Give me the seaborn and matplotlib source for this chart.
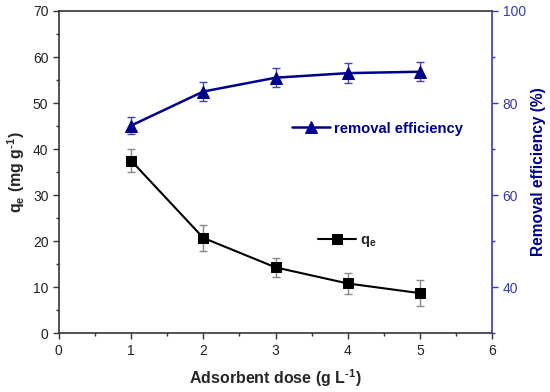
import numpy as np
import pandas as pd
import matplotlib
matplotlib.use('Agg')
import matplotlib.pyplot as plt
import seaborn as sns
from matplotlib.ticker import MultipleLocator

# data
dose = [1, 2, 3, 4, 5]
qe = [37.5, 20.7, 14.3, 10.8, 8.7]
qe_err = [2.5, 2.8, 2.1, 2.2, 2.8]
removal = [75.1, 82.5, 85.5, 86.5, 86.8]
removal_err = [1.8, 2.0, 2.1, 2.2, 2.1]

sns.set_style('ticks')
plt.rcParams['font.family'] = ['Liberation Sans', 'DejaVu Sans']
plt.rcParams['mathtext.fontset'] = 'custom'
plt.rcParams['mathtext.rm'] = 'Liberation Sans'
plt.rcParams['mathtext.bf'] = 'Liberation Sans:bold'
plt.rcParams['mathtext.default'] = 'bf'
plt.rcParams['axes.unicode_minus'] = False

navy = '#00008B'
axis_blue = '#3A3AA8'

df = pd.DataFrame({'dose': dose, 'qe': qe, 'removal': removal})

fig = plt.figure(figsize=(5.5, 3.92), dpi=100)
ax = fig.add_axes([0.107, 0.150, 0.788, 0.822])
ax2 = ax.twinx()

# q_e series
ax.errorbar(dose, qe, yerr=qe_err, fmt='none', ecolor='#888888',
            elinewidth=1, capsize=3, capthick=1, zorder=2)
sns.lineplot(data=df, x='dose', y='qe', ax=ax, color='black', marker='s',
             markersize=6.5, markeredgecolor='black', linewidth=1.5,
             label='q$_e$', legend=False, zorder=3)

# removal efficiency series
ax2.errorbar(dose, removal, yerr=removal_err, fmt='none', ecolor='#4444AA',
             elinewidth=1, capsize=3, capthick=1, zorder=2)
sns.lineplot(data=df, x='dose', y='removal', ax=ax2, color=navy, marker='^',
             markersize=8, markeredgecolor=navy, linewidth=1.8,
             label='removal efficiency', legend=False, zorder=3)

ax.set_xlim(0, 6)
ax.set_ylim(0, 70)
ax2.set_ylim(30, 100)

ax.xaxis.set_major_locator(MultipleLocator(1))
ax.xaxis.set_minor_locator(MultipleLocator(0.5))
ax.yaxis.set_major_locator(MultipleLocator(10))
ax.yaxis.set_minor_locator(MultipleLocator(5))
ax2.yaxis.set_minor_locator(MultipleLocator(10))
ax2.set_yticks([40, 60, 80, 100])

ax.tick_params(axis='both', which='major', direction='out', length=4, width=1,
               labelsize=10, colors='#333333', labelcolor='#222222')
ax.tick_params(axis='both', which='minor', direction='out', length=2.5, width=1,
               colors='#333333')
ax2.tick_params(axis='y', which='major', direction='out', length=4, width=1,
                labelsize=10, colors=axis_blue)
ax2.tick_params(axis='y', which='minor', direction='out', length=2.5, width=1,
                colors=axis_blue)

for side in ['left', 'bottom', 'top']:
    ax.spines[side].set_color('#333333')
    ax.spines[side].set_linewidth(1.2)
ax.spines['right'].set_visible(False)
for side in ['left', 'bottom', 'top']:
    ax2.spines[side].set_visible(False)
ax2.spines['right'].set_color(axis_blue)
ax2.spines['right'].set_linewidth(1.2)

ax.set_xlabel('Adsorbent dose (g L$^{\u20101}$)', fontsize=11.5,
              fontweight='bold', labelpad=7)
ax.set_ylabel('q$_e$ (mg g$^{\u20101}$)', fontsize=11.5,
              fontweight='bold', labelpad=4)
ax2.set_ylabel('Removal efficiency (%)', fontsize=11.2, fontweight='bold',
               color=navy, labelpad=4)

h1, l1 = ax.get_legend_handles_labels()
h2, l2 = ax2.get_legend_handles_labels()
leg1 = ax2.legend(h2, l2, loc='center left', bbox_to_anchor=(0.52, 0.635),
                  frameon=False, handlelength=2.6, handletextpad=0.3,
                  borderpad=0, prop={'weight': 'bold', 'size': 10.6})
for t in leg1.get_texts():
    t.set_color(navy)
ax2.add_artist(leg1)
leg2 = ax2.legend(h1, l1, loc='center left', bbox_to_anchor=(0.58, 0.285),
                  frameon=False, handlelength=2.6, handletextpad=0.3,
                  borderpad=0, prop={'weight': 'bold', 'size': 10.6})

fig.savefig('out.png', dpi=100)
